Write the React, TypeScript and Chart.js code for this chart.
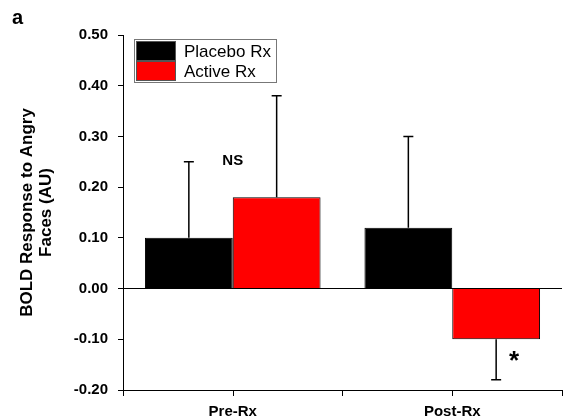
import React, { useEffect, useRef } from 'react';
import { Chart, registerables } from 'chart.js';

Chart.register(...registerables);

const FONT = '"Liberation Sans", Arial, Helvetica, sans-serif';

const categories = ['Pre-Rx', 'Post-Rx'];
const seriesLabels = ['Placebo Rx', 'Active Rx'];
const seriesColors = ['#000000', '#ff0000'];
const placeboValues = [0.10, 0.12];
const activeValues = [0.18, -0.10];
const placeboErrors = [0.15, 0.18];
const activeErrors = [0.20, 0.08];
const yTickValues = [-0.2, -0.1, 0.0, 0.1, 0.2, 0.3, 0.4, 0.5];
const yTitle = ['BOLD Response to Angry', 'Faces (AU)'];
const panelLabel = 'a';
const nsLabel = { text: 'NS', category: 0, value: 0.252 };
const starLabel = { text: '*', category: 1, dataset: 1, value: -0.13 };

const errorsByDataset = [placeboErrors, activeErrors];

const errorBarPlugin = {
  id: 'errorBars',
  afterDatasetsDraw(chart: any) {
    const ctx = chart.ctx;
    const y = chart.scales.y;
    ctx.save();
    ctx.strokeStyle = '#000';
    ctx.lineWidth = 1.5;
    chart.data.datasets.forEach((ds: any, d: number) => {
      const meta = chart.getDatasetMeta(d);
      meta.data.forEach((bar: any, i: number) => {
        const v = ds.data[i];
        const e = errorsByDataset[d][i];
        const end = v >= 0 ? v + e : v - e;
        const y0 = y.getPixelForValue(v);
        const y1 = y.getPixelForValue(end);
        ctx.beginPath();
        ctx.moveTo(bar.x, y0);
        ctx.lineTo(bar.x, y1);
        ctx.moveTo(bar.x - 5, y1);
        ctx.lineTo(bar.x + 5, y1);
        ctx.stroke();
      });
    });
    ctx.restore();
  },
};

const decorPlugin = {
  id: 'decor',
  afterDraw(chart: any) {
    const ctx = chart.ctx;
    const xs = chart.scales.x;
    const ys = chart.scales.y;
    const area = chart.chartArea;
    ctx.save();
    // center tick marks on category axis
    ctx.strokeStyle = '#000';
    ctx.lineWidth = 1;
    categories.forEach((_, i) => {
      const px = Math.round(xs.getPixelForValue(i)) + 0.5;
      ctx.beginPath();
      ctx.moveTo(px, area.bottom);
      ctx.lineTo(px, area.bottom + 6);
      ctx.stroke();
    });

    // legend
    const lx = area.left + 11;
    const ly = area.top + 4;
    const boxW = 142;
    const rowH = 20;
    const boxH = rowH * seriesLabels.length + 3;
    ctx.fillStyle = '#fff';
    ctx.fillRect(lx, ly, boxW, boxH);
    ctx.strokeStyle = '#777';
    ctx.lineWidth = 1;
    ctx.strokeRect(lx + 0.5, ly + 0.5, boxW, boxH);
    ctx.font = `17px ${FONT}`;
    ctx.textBaseline = 'middle';
    ctx.textAlign = 'left';
    chart.data.datasets.forEach((ds: any, d: number) => {
      const sy = ly + 2 + d * rowH;
      ctx.fillStyle = ds.backgroundColor;
      ctx.fillRect(lx + 2, sy, 40, rowH);
      ctx.strokeStyle = '#555';
      ctx.strokeRect(lx + 2.5, sy + 0.5, 39, rowH - 1);
      ctx.fillStyle = '#000';
      ctx.fillText(ds.label, lx + 50, sy + rowH / 2 + 1);
    });

    // NS annotation
    ctx.fillStyle = '#000';
    ctx.font = `bold 15px ${FONT}`;
    ctx.textAlign = 'center';
    ctx.textBaseline = 'middle';
    ctx.fillText(nsLabel.text, xs.getPixelForValue(nsLabel.category), ys.getPixelForValue(nsLabel.value));

    // star annotation
    const starBar = chart.getDatasetMeta(starLabel.dataset).data[starLabel.category];
    ctx.font = `bold 26px ${FONT}`;
    ctx.textAlign = 'center';
    ctx.textBaseline = 'alphabetic';
    ctx.fillText(starLabel.text, starBar.x + 18, ys.getPixelForValue(starLabel.value) + 14);

    // panel label
    ctx.font = `bold 20px ${FONT}`;
    ctx.textAlign = 'left';
    ctx.fillText(panelLabel, 12, 24);
    ctx.restore();
  },
};

export default function App() {
  const ref = useRef<HTMLCanvasElement>(null);

  useEffect(() => {
    if (!ref.current) return;
    const chart = new Chart(ref.current, {
      type: 'bar',
      data: {
        labels: categories,
        datasets: [
          {
            label: seriesLabels[0],
            data: placeboValues,
            backgroundColor: seriesColors[0],
            borderColor: '#000',
            borderWidth: 1,
          },
          {
            label: seriesLabels[1],
            data: activeValues,
            backgroundColor: seriesColors[1],
            borderColor: '#000',
            borderWidth: 1,
          },
        ],
      },
      options: {
        responsive: false,
        animation: false,
        layout: { padding: { left: 0, right: 1, top: 35, bottom: 0 } },
        datasets: { bar: { categoryPercentage: 0.8, barPercentage: 1.0 } },
        plugins: { legend: { display: false }, tooltip: { enabled: false } },
        scales: {
          x: {
            grid: { offset: true, drawOnChartArea: false, tickLength: 6, color: '#000' },
            border: { display: true, color: '#000', width: 1 },
            ticks: { font: { family: FONT, size: 15, weight: 'bold' }, color: '#000', padding: 7 },
            afterFit(scale: any) { scale.height = 28; },
          },
          y: {
            min: -0.2,
            max: 0.5,
            afterBuildTicks(scale: any) { scale.ticks = yTickValues.map((v) => ({ value: v })); },
            grid: {
              color: (c: any) => (c.tick && Math.abs(c.tick.value) < 1e-9 ? '#000' : 'rgba(0,0,0,0)'),
              tickColor: '#000',
              tickLength: 5,
              drawOnChartArea: true,
            },
            border: { display: true, color: '#000', width: 1 },
            ticks: {
              font: { family: FONT, size: 15, weight: 'bold' },
              color: '#000',
              padding: 10,
              callback: (v: any) => Number(v).toFixed(2),
            },
            title: {
              display: true,
              text: yTitle,
              color: '#000',
              font: { family: FONT, size: 17, weight: 'bold', lineHeight: 1.1 },
              padding: { top: 18, bottom: 0 },
            },
            afterFit(scale: any) { scale.width = 123; },
          },
        },
      },
      plugins: [errorBarPlugin, decorPlugin],
    } as any);
    return () => chart.destroy();
  }, []);

  return (
    <div style={{ position: 'fixed', left: 0, top: 0, width: 563, height: 418, background: '#fff' }}>
      <canvas ref={ref} width={563} height={418} />
    </div>
  );
}
